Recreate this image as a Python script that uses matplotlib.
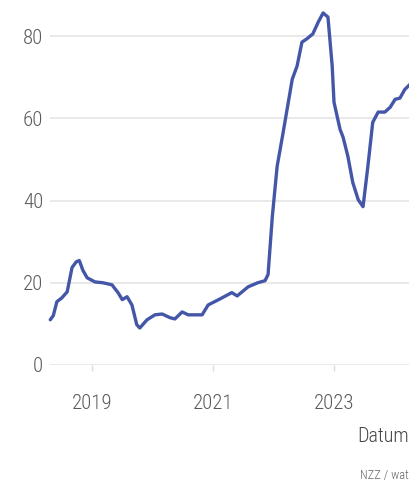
import matplotlib.pyplot as plt

# series (decimal year, value)
years = [2018.31, 2018.36, 2018.42, 2018.50, 2018.59, 2018.67, 2018.74, 2018.79,
         2018.85, 2018.92, 2019.05, 2019.18, 2019.33, 2019.43, 2019.50, 2019.58,
         2019.66, 2019.74, 2019.79, 2019.91, 2020.04, 2020.16, 2020.29, 2020.37,
         2020.49, 2020.59, 2020.82, 2020.92, 2021.12, 2021.31, 2021.40, 2021.58,
         2021.74, 2021.86, 2021.91, 2021.98, 2022.06, 2022.16, 2022.31, 2022.39,
         2022.47, 2022.55, 2022.65, 2022.74, 2022.82, 2022.90, 2022.97, 2023.00,
         2023.10, 2023.15, 2023.23, 2023.31, 2023.40, 2023.48, 2023.56, 2023.64,
         2023.73, 2023.84, 2023.93, 2024.01, 2024.09, 2024.17, 2024.26]
values = [11.0, 12.0, 15.4, 16.3, 17.8, 23.7, 25.1, 25.4,
          23.0, 21.2, 20.2, 20.0, 19.5, 17.6, 15.9, 16.6,
          14.6, 9.8, 9.0, 11.0, 12.2, 12.4, 11.5, 11.2,
          12.9, 12.2, 12.2, 14.6, 16.1, 17.6, 16.8, 19.0,
          20.0, 20.5, 22.0, 36.0, 48.3, 56.6, 69.5, 72.7,
          78.5, 79.3, 80.5, 83.4, 85.6, 84.6, 72.7, 63.9,
          57.3, 55.4, 50.7, 44.4, 40.2, 38.5, 48.3, 59.0,
          61.5, 61.5, 62.7, 64.6, 64.9, 67.0, 68.3]

x_ticks = [2019, 2021, 2023]
y_ticks = [0, 20, 40, 60, 80]

plt.rcParams['font.family'] = ['Roboto Condensed', 'DejaVu Sans']
plt.rcParams['font.weight'] = 'light'

W, H = 409, 480
fig = plt.figure(figsize=(W / 100, H / 100), dpi=100)

# axes run past the right edge, the plot is cut there
px_per_year = 60.5
x0, x1 = 2018.31, 2024.6
left_px = 92 - (2019 - x0) * px_per_year
right_px = 92 + (x1 - 2019) * px_per_year
y_top = 88
ax = fig.add_axes([left_px / W, (H - 365) / H,
                   (right_px - left_px) / W, y_top * 4.1125 / H])

ax.plot(years, values, color='#4456a8', lw=2.4, solid_joinstyle='round',
        solid_capstyle='round', clip_on=False, zorder=3)

ax.set_xlim(x0, x1)
ax.set_ylim(0, y_top)
ax.set_xticks(x_ticks)
ax.set_xticklabels([str(t) for t in x_ticks])
ax.set_yticks(y_ticks)
ax.set_yticklabels([str(t) for t in y_ticks])

for s in ax.spines.values():
    s.set_visible(False)
ax.grid(axis='y', color='#e9e9e9', lw=1.4)
ax.set_axisbelow(True)

ax.tick_params(axis='x', length=4, width=1, color='#dcdcdc', pad=17,
               labelsize=15, labelcolor='#5a5a5a')
ax.tick_params(axis='y', length=0, pad=5, labelsize=15, labelcolor='#5a5a5a')

fig.text(357 / W, 1 - 436 / H, 'Datum', fontsize=14.5, color='#444444',
         ha='left', va='center')
fig.text(360 / W, 1 - 475 / H, 'NZZ / watson', fontsize=9, color='#666666',
         ha='left', va='center')

fig.savefig('out.png', dpi=100)
